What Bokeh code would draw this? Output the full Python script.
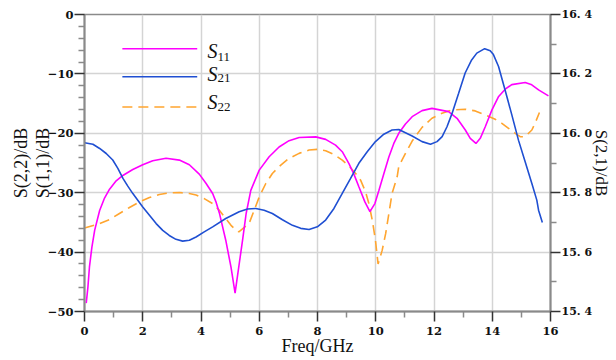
from bokeh.plotting import figure
from bokeh.models import Range1d, LinearAxis, FixedTicker, Label, Arrow
from bokeh.embed import file_html
from bokeh.resources import INLINE

# ---- data ----
freq_s11 = [0.06, 0.117, 0.17, 0.254, 0.35, 0.52, 0.688, 0.86, 1.088, 1.316, 1.658, 2.0, 2.343,
            2.8, 3.257, 3.6, 3.94, 4.17, 4.4, 4.51, 4.63, 4.85, 5.03, 5.17,
            5.426, 5.55, 5.71, 6.0, 6.34, 6.68, 7.024, 7.37, 7.94, 8.28, 8.62, 8.85, 9.08, 9.25,
            9.42, 9.627, 9.8, 9.97, 10.11, 10.28, 10.45, 10.62, 10.79, 11.02, 11.25, 11.59,
            11.93, 12.5, 12.79, 13.07, 13.245, 13.44, 13.588, 13.76, 13.99, 14.22, 14.444,
            14.67, 15.13, 15.357, 15.59, 15.93]
s11_db = [-48.6, -45.9, -42.5, -39.15, -36.3, -33.0, -30.9, -29.4, -28.0, -27.1, -26.1, -25.3,
          -24.62, -24.2, -24.51, -25.3, -26.87, -28.4, -30.14, -31.5, -33.4, -38.0, -42.53, -46.9,
          -38.02, -33.5, -29.6, -26.2, -23.95, -22.3, -21.24, -20.7, -20.6, -21.02, -22.0, -23.1,
          -25.1, -26.87, -29.0, -31.55, -33.2, -31.83, -29.6, -26.76, -24.0, -21.7, -20.0,
          -18.43, -17.2, -16.18, -15.8, -16.35, -17.47, -19.4, -20.85, -21.7, -20.85, -18.9,
          -16.06, -13.8, -12.57, -11.8, -11.45, -11.84, -12.7, -13.7]

freq_s21 = [0.0, 0.289, 0.52, 0.745, 0.97, 1.145, 1.32, 1.487, 1.66, 2.0, 2.23, 2.46, 2.686,
            2.91, 3.14, 3.37, 3.6, 3.83, 4.11, 4.4, 4.85, 5.31, 5.597, 5.88, 6.168, 6.45, 6.796,
            7.14, 7.424, 7.71, 7.995, 8.28, 8.565, 8.85, 9.136, 9.42, 9.707, 9.99, 10.278,
            10.56, 10.79, 11.02, 11.25, 11.59, 11.88, 12.104, 12.28, 12.446, 12.62, 12.846,
            13.07, 13.28, 13.47, 13.74, 13.93, 14.04, 14.216, 14.44, 14.672, 14.9, 15.13,
            15.36, 15.53, 15.59, 15.72]
s21_db = [15.968, 15.963, 15.949, 15.932, 15.910, 15.882, 15.848, 15.822, 15.797, 15.752, 15.724,
          15.696, 15.673, 15.656, 15.643, 15.637, 15.640, 15.651, 15.668, 15.685, 15.713, 15.736,
          15.745, 15.747, 15.741, 15.730, 15.709, 15.690, 15.680, 15.676, 15.685, 15.708, 15.747,
          15.798, 15.848, 15.899, 15.938, 15.972, 15.997, 16.011, 16.013, 16.002, 15.991, 15.972,
          15.963, 15.972, 15.989, 16.022, 16.067, 16.135, 16.203, 16.245, 16.270, 16.285, 16.278,
          16.265, 16.225, 16.146, 16.062, 15.977, 15.904, 15.831, 15.775, 15.741, 15.700]

freq_s22 = [0.0, 0.52, 0.86, 1.2, 1.544, 1.89, 2.23, 2.57, 2.914, 3.26, 3.6, 3.83, 4.11, 4.4,
            4.63, 4.85, 5.03, 5.2, 5.3, 5.65, 5.826, 6.0, 6.225, 6.45, 6.74, 7.02, 7.367, 7.71,
            7.995, 8.28, 8.565, 8.85, 9.08, 9.31, 9.48, 9.65, 9.764, 9.88, 9.99, 10.08, 10.22,
            10.34, 10.45, 10.56, 10.735, 10.79, 11.02, 11.25, 11.59, 11.93, 12.275, 12.62,
            13.07, 13.416, 13.76, 14.1, 14.33, 14.56, 14.79, 14.96, 15.13, 15.36, 15.47, 15.62]
s22_db = [-35.94, -35.2, -34.53, -33.5, -32.5, -31.55, -30.82, -30.3, -30.03, -29.97, -30.14,
          -30.4, -30.99, -31.83, -32.96, -34.36, -35.49, -36.3, -36.6, -35.2, -32.96, -30.7,
          -28.45, -26.76, -25.35, -24.23, -23.38, -22.82, -22.71, -22.93, -23.55, -24.51, -25.52,
          -26.76, -27.89, -29.86, -31.83, -34.6, -38.0, -42.0, -39.71, -36.9, -33.52, -30.14,
          -27.33, -25.6, -23.38, -21.3, -19.0, -17.47, -16.63, -16.06, -15.95, -16.23, -16.9,
          -17.64, -18.32, -19.16, -20.0, -20.57, -20.57, -19.44, -18.32, -16.5]

x_ticks = [0, 2, 4, 6, 8, 10, 12, 14, 16]
x_minor = [1, 3, 5, 7, 9, 11, 13, 15]
y_ticks = [-50, -40, -30, -20, -10, 0]
y_labels = ["\u221250", "\u221240", "\u221230", "\u221220", "\u221210", "0"]
y_minor = [-48, -46, -44, -42, -38, -36, -34, -32, -28, -26, -24, -22, -18, -16, -14, -12, -8, -6, -4, -2]
y2_ticks = [15.4, 15.6, 15.8, 16.0, 16.2, 16.4]
y2_labels = ["15. 4", "15. 6", "15. 8", "16. 0", "16. 2", "16. 4"]
y2_minor = [15.5, 15.7, 15.9, 16.1, 16.3]

x_title = "Freq/GHz"
y_title = "S(2,2)/dB\nS(1,1)/dB"
y2_title = "S(2,1)/dB"
series_names = ["11", "21", "22"]
series_colors = ["#ff00ff", "#1f4fd2", "#ffa52f"]

# ---- figure ----
p = figure(width=614, height=359, output_backend="svg", toolbar_location=None,
           x_range=Range1d(0, 16), y_range=Range1d(-50, 0),
           min_border_left=84, min_border_right=63, min_border_top=14, min_border_bottom=48)
p.extra_y_ranges = {"s21": Range1d(15.4, 16.4)}
p.outline_line_color = "#8a8a8a"
p.outline_line_width = 1.5

AX_COLOR = "#8a8a8a"
TICK_FONT = "DejaVu Serif"
LABEL_FONT = "Liberation Serif"


def style_axis(ax):
    ax.axis_line_color = AX_COLOR
    ax.axis_line_width = 2
    ax.major_tick_line_color = "#333333"
    ax.major_tick_line_width = 1.5
    ax.minor_tick_line_color = AX_COLOR
    ax.minor_tick_line_width = 1.5
    ax.major_tick_out = 10
    ax.major_tick_in = 0
    ax.minor_tick_out = 6
    ax.minor_tick_in = 0
    ax.major_label_text_font = TICK_FONT
    ax.major_label_text_font_style = "bold"
    ax.major_label_text_font_size = "11.5px"
    ax.major_label_text_color = "#111111"
    ax.axis_label_text_font = LABEL_FONT
    ax.axis_label_text_font_style = "normal"
    ax.axis_label_text_font_size = "18px"
    ax.axis_label_text_color = "#111111"


xa = p.xaxis[0]
xa.ticker = FixedTicker(ticks=x_ticks, minor_ticks=x_minor)
style_axis(xa)
xa.axis_label = x_title
xa.major_label_standoff = 5
xa.axis_label_standoff = -2

ya = p.yaxis[0]
ya.ticker = FixedTicker(ticks=y_ticks, minor_ticks=y_minor)
ya.major_label_overrides = dict(zip(y_ticks, y_labels))
style_axis(ya)
ya.axis_label = y_title
ya.axis_label_text_line_height = 1.1
ya.major_label_standoff = 1
ya.axis_label_standoff = -8

ra = LinearAxis(y_range_name="s21", ticker=FixedTicker(ticks=y2_ticks, minor_ticks=y2_minor))
ra.major_label_overrides = dict(zip(y2_ticks, y2_labels))
style_axis(ra)
ra.major_label_text_font_size = "11px"
ra.axis_label = y2_title
ra.axis_label_text_font_size = "17px"
ra.axis_label_text_line_height = 0.8
ra.major_label_standoff = 1
ra.axis_label_standoff = -3
p.add_layout(ra, "right")

p.xgrid.ticker = FixedTicker(ticks=x_ticks)
p.ygrid.ticker = FixedTicker(ticks=y_ticks)
for g in (p.xgrid[0], p.ygrid[0]):
    g.grid_line_color = "#d4d4d4"
    g.grid_line_width = 1.5

# ---- curves ----
p.line(freq_s22, s22_db, line_color=series_colors[2], line_width=1.6, line_dash="10 6")
p.line(freq_s11, s11_db, line_color=series_colors[0], line_width=1.6)
p.line(freq_s21, s21_db, y_range_name="s21", line_color=series_colors[1], line_width=1.6)

# ---- legend (hand built so the subscripts can be set) ----
leg_line_x = (1.3, 3.87)
leg_text_x = 4.22
leg_sub_x = 4.57
leg_rows = [-5.76, -10.49, -15.56]
leg_s_dy = [-0.35, 0.5, 0.75]
leg_sub_dy = [-1.35, -0.2, 0.0]
leg_dash = [None, None, "10 6"]
for name, color, yrow, sdy, subdy, dash in zip(series_names, series_colors, leg_rows,
                                                 leg_s_dy, leg_sub_dy, leg_dash):
    arr = Arrow(end=None, x_start=leg_line_x[0], y_start=yrow, x_end=leg_line_x[1], y_end=yrow,
                line_color=color, line_width=1.6)
    if dash:
        arr.line_dash = dash
    p.add_layout(arr)
    p.add_layout(Label(x=leg_text_x, y=yrow + sdy, text="S", text_font=LABEL_FONT,
                       text_font_style="italic", text_font_size="20px",
                       text_baseline="middle", text_align="left", text_color="#111111"))
    p.add_layout(Label(x=leg_sub_x, y=yrow + subdy, text=name, text_font=LABEL_FONT,
                       text_font_size="13px", text_baseline="middle", text_align="left",
                       text_color="#111111"))

open("out.html", "w").write(file_html(p, INLINE))
